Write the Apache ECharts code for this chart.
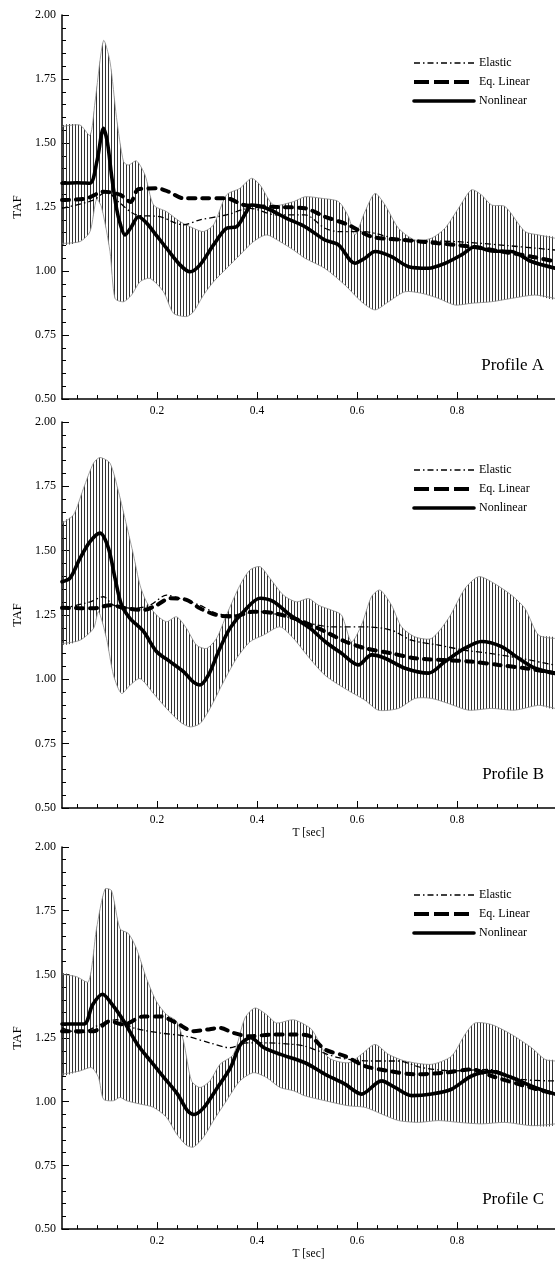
<!DOCTYPE html>
<html>
<head>
<meta charset="utf-8">
<script src="https://cdn.jsdelivr.net/npm/echarts@6/dist/echarts.min.js"></script>
<style>
html,body{margin:0;padding:0;background:#fff;}
#chart{width:555px;height:1261px;}
</style>
</head>
<body>
<div id="chart"></div>
<script>
// ---------- data (T [sec], TAF) ----------
const nonlinearA = [[0.01,1.343],[0.04,1.345],[0.066,1.343],[0.08,1.43],[0.093,1.557],[0.101,1.50],[0.109,1.375],[0.119,1.245],[0.127,1.18],[0.136,1.141],[0.148,1.17],[0.163,1.212],[0.178,1.19],[0.193,1.154],[0.219,1.089],[0.246,1.024],[0.266,0.997],[0.286,1.024],[0.313,1.102],[0.339,1.167],[0.359,1.173],[0.379,1.232],[0.389,1.258],[0.419,1.245],[0.459,1.206],[0.496,1.173],[0.536,1.121],[0.563,1.102],[0.596,1.030],[0.616,1.05],[0.636,1.076],[0.669,1.056],[0.703,1.017],[0.743,1.011],[0.776,1.030],[0.809,1.063],[0.836,1.095],[0.869,1.078],[0.909,1.076],[0.949,1.037],[0.996,1.011]];
const eqLinearA = [[0.01,1.277],[0.06,1.284],[0.093,1.31],[0.127,1.297],[0.147,1.27],[0.163,1.32],[0.2,1.323],[0.223,1.31],[0.253,1.284],[0.29,1.284],[0.339,1.284],[0.374,1.258],[0.439,1.25],[0.496,1.245],[0.536,1.212],[0.583,1.18],[0.629,1.134],[0.696,1.121],[0.763,1.108],[0.829,1.095],[0.883,1.078],[0.949,1.056],[0.996,1.037]];
const elasticA = [[0.01,1.245],[0.073,1.277],[0.099,1.31],[0.123,1.27],[0.159,1.219],[0.206,1.212],[0.253,1.18],[0.286,1.2],[0.339,1.219],[0.386,1.245],[0.439,1.219],[0.496,1.219],[0.536,1.167],[0.563,1.154],[0.61,1.154],[0.696,1.12],[0.796,1.115],[0.896,1.10],[0.996,1.082]];
const upperA = [[0.01,1.564],[0.046,1.57],[0.066,1.53],[0.076,1.66],[0.093,1.9],[0.106,1.818],[0.119,1.6],[0.133,1.427],[0.143,1.414],[0.159,1.43],[0.176,1.375],[0.193,1.258],[0.219,1.232],[0.246,1.193],[0.273,1.167],[0.293,1.154],[0.313,1.18],[0.339,1.297],[0.366,1.323],[0.389,1.362],[0.406,1.336],[0.433,1.258],[0.473,1.271],[0.496,1.29],[0.529,1.284],[0.563,1.271],[0.583,1.212],[0.596,1.141],[0.616,1.232],[0.636,1.303],[0.656,1.258],[0.683,1.167],[0.716,1.121],[0.749,1.128],[0.776,1.167],[0.803,1.245],[0.829,1.317],[0.849,1.297],[0.869,1.258],[0.896,1.252],[0.936,1.154],[0.963,1.141],[0.996,1.128]];
const lowerA = [[0.01,1.108],[0.046,1.115],[0.066,1.154],[0.079,1.28],[0.089,1.25],[0.106,1.076],[0.116,0.893],[0.133,0.88],[0.149,0.906],[0.166,0.958],[0.186,0.971],[0.213,0.919],[0.233,0.835],[0.259,0.822],[0.273,0.841],[0.293,0.906],[0.313,0.958],[0.339,1.01],[0.366,1.063],[0.393,1.115],[0.419,1.141],[0.446,1.115],[0.473,1.082],[0.496,1.05],[0.536,1.01],[0.576,0.945],[0.609,0.88],[0.636,0.848],[0.663,0.88],[0.696,0.919],[0.729,0.913],[0.763,0.893],[0.796,0.867],[0.829,0.874],[0.869,0.88],[0.909,0.893],[0.956,0.906],[0.996,0.893]];

const nonlinearB = [[0.01,1.379],[0.026,1.393],[0.046,1.470],[0.066,1.535],[0.086,1.568],[0.103,1.509],[0.116,1.393],[0.129,1.289],[0.146,1.237],[0.173,1.186],[0.199,1.108],[0.226,1.069],[0.253,1.030],[0.273,0.989],[0.286,0.978],[0.303,1.017],[0.323,1.108],[0.346,1.199],[0.373,1.263],[0.406,1.315],[0.433,1.302],[0.466,1.250],[0.506,1.199],[0.536,1.147],[0.569,1.101],[0.603,1.056],[0.629,1.095],[0.656,1.082],[0.696,1.043],[0.743,1.024],[0.776,1.069],[0.816,1.121],[0.849,1.147],[0.889,1.127],[0.923,1.082],[0.956,1.043],[0.996,1.024]];
const eqLinearB = [[0.01,1.278],[0.073,1.276],[0.106,1.288],[0.139,1.276],[0.173,1.270],[0.199,1.288],[0.226,1.315],[0.259,1.309],[0.286,1.276],[0.319,1.250],[0.353,1.244],[0.393,1.263],[0.433,1.257],[0.473,1.238],[0.506,1.212],[0.536,1.186],[0.576,1.147],[0.616,1.121],[0.669,1.101],[0.716,1.082],[0.776,1.075],[0.829,1.069],[0.883,1.056],[0.936,1.043],[0.996,1.024]];
const elasticB = [[0.01,1.275],[0.066,1.301],[0.093,1.321],[0.113,1.288],[0.153,1.276],[0.186,1.288],[0.219,1.327],[0.246,1.314],[0.286,1.288],[0.319,1.256],[0.353,1.250],[0.406,1.263],[0.459,1.243],[0.506,1.217],[0.549,1.204],[0.616,1.204],[0.669,1.191],[0.709,1.152],[0.763,1.133],[0.816,1.113],[0.869,1.100],[0.929,1.081],[0.996,1.055]];
const upperB = [[0.01,1.606],[0.033,1.639],[0.053,1.742],[0.073,1.840],[0.086,1.862],[0.106,1.840],[0.123,1.729],[0.139,1.600],[0.153,1.483],[0.166,1.366],[0.179,1.301],[0.199,1.250],[0.219,1.224],[0.239,1.243],[0.259,1.198],[0.279,1.133],[0.299,1.120],[0.319,1.159],[0.339,1.250],[0.366,1.366],[0.386,1.425],[0.406,1.438],[0.426,1.392],[0.453,1.327],[0.479,1.301],[0.503,1.314],[0.523,1.288],[0.549,1.269],[0.569,1.250],[0.589,1.146],[0.609,1.211],[0.629,1.321],[0.646,1.347],[0.669,1.288],[0.689,1.204],[0.716,1.165],[0.749,1.159],[0.783,1.237],[0.816,1.353],[0.843,1.399],[0.869,1.379],[0.909,1.327],[0.936,1.275],[0.963,1.172],[0.996,1.159]];
const lowerB = [[0.01,1.139],[0.046,1.152],[0.073,1.198],[0.083,1.263],[0.099,1.159],[0.113,1.016],[0.129,0.945],[0.146,0.977],[0.166,1.003],[0.193,0.945],[0.219,0.887],[0.246,0.835],[0.266,0.815],[0.286,0.828],[0.306,0.887],[0.333,0.990],[0.359,1.081],[0.386,1.146],[0.413,1.172],[0.446,1.204],[0.473,1.159],[0.503,1.087],[0.536,1.016],[0.576,0.964],[0.616,0.919],[0.643,0.880],[0.683,0.887],[0.716,0.926],[0.749,0.926],[0.783,0.906],[0.823,0.880],[0.869,0.887],[0.916,0.880],[0.963,0.899],[0.996,0.887]];

const nonlinearC = [[0.01,1.305],[0.054,1.305],[0.071,1.380],[0.091,1.422],[0.111,1.380],[0.134,1.315],[0.161,1.225],[0.187,1.160],[0.214,1.095],[0.241,1.030],[0.261,0.965],[0.274,0.950],[0.294,0.978],[0.321,1.056],[0.347,1.134],[0.367,1.225],[0.387,1.251],[0.414,1.212],[0.447,1.186],[0.496,1.153],[0.536,1.108],[0.576,1.069],[0.609,1.030],[0.649,1.082],[0.676,1.056],[0.709,1.024],[0.749,1.030],[0.789,1.049],[0.829,1.101],[0.869,1.118],[0.909,1.095],[0.956,1.056],[0.996,1.030]];
const eqLinearC = [[0.01,1.277],[0.073,1.277],[0.106,1.316],[0.133,1.303],[0.173,1.335],[0.206,1.335],[0.239,1.309],[0.273,1.277],[0.299,1.283],[0.326,1.290],[0.353,1.270],[0.386,1.257],[0.433,1.264],[0.473,1.264],[0.506,1.257],[0.536,1.205],[0.576,1.179],[0.616,1.140],[0.663,1.121],[0.716,1.108],[0.776,1.114],[0.829,1.127],[0.869,1.101],[0.923,1.069],[0.996,1.030]];
const elasticC = [[0.01,1.290],[0.046,1.270],[0.086,1.303],[0.119,1.322],[0.153,1.290],[0.206,1.270],[0.259,1.257],[0.306,1.231],[0.346,1.212],[0.379,1.231],[0.419,1.231],[0.473,1.225],[0.496,1.218],[0.563,1.173],[0.629,1.160],[0.683,1.160],[0.729,1.134],[0.796,1.121],[0.863,1.127],[0.929,1.088],[0.996,1.082]];
const upperC = [[0.01,1.500],[0.039,1.491],[0.063,1.471],[0.079,1.679],[0.096,1.835],[0.109,1.829],[0.126,1.679],[0.143,1.660],[0.159,1.601],[0.179,1.484],[0.199,1.393],[0.219,1.342],[0.239,1.316],[0.253,1.238],[0.269,1.082],[0.286,1.056],[0.306,1.082],[0.326,1.147],[0.353,1.186],[0.376,1.329],[0.396,1.368],[0.419,1.342],[0.439,1.309],[0.473,1.322],[0.506,1.290],[0.516,1.264],[0.543,1.173],[0.583,1.153],[0.609,1.186],[0.636,1.225],[0.663,1.186],[0.696,1.160],[0.749,1.147],[0.789,1.179],[0.816,1.264],[0.836,1.309],[0.869,1.303],[0.909,1.264],[0.949,1.212],[0.976,1.166],[0.996,1.160]];
const lowerC = [[0.01,1.108],[0.046,1.121],[0.069,1.134],[0.083,1.095],[0.093,1.010],[0.113,1.004],[0.126,1.017],[0.139,1.004],[0.166,0.991],[0.193,0.978],[0.219,0.939],[0.239,0.874],[0.259,0.829],[0.273,0.822],[0.293,0.861],[0.313,0.926],[0.339,1.004],[0.366,1.082],[0.393,1.114],[0.419,1.095],[0.446,1.056],[0.473,1.043],[0.496,1.023],[0.536,1.004],[0.583,0.984],[0.616,0.978],[0.649,0.952],[0.683,0.926],[0.723,0.919],[0.763,0.926],[0.803,0.919],[0.849,0.913],[0.896,0.919],[0.949,0.906],[0.996,0.913]];

const seriesNames = ['Elastic', 'Eq. Linear', 'Nonlinear'];
const profileLabels = ['Profile A', 'Profile B', 'Profile C'];
const xMajorTicks = [0.2, 0.4, 0.6, 0.8];
const xMinorTicks = [0.04, 0.08, 0.12, 0.16, 0.24, 0.28, 0.32, 0.36, 0.44, 0.48, 0.52, 0.56, 0.64, 0.68, 0.72, 0.76, 0.84, 0.88, 0.92, 0.96];
const xMin = 0.01, xMax = 0.996;
const yMin = 0.5, yMax = 2.0, yStep = 0.25;

const panels = [
  {el: elasticA, eq: eqLinearA, nl: nonlinearA, up: upperA, lo: lowerA},
  {el: elasticB, eq: eqLinearB, nl: nonlinearB, up: upperB, lo: lowerB},
  {el: elasticC, eq: eqLinearC, nl: nonlinearC, up: upperC, lo: lowerC}
];

// ---------- styles ----------
const FONT = 'Liberation Serif';
const gridTops = [15, 422, 847];
const gridHeights = [384, 386, 386];
const showXName = [false, true, true];

const hatch = document.createElement('canvas');
hatch.width = 3; hatch.height = 6;
(function(){ const c = hatch.getContext('2d'); c.fillStyle = '#333'; c.fillRect(0, 0, 1, 6); })();

const elasticStyle = {color: '#000', width: 1.3, type: [6, 3, 1.5, 3]};
const eqStyle = {color: '#000', width: 4, type: [7, 7], cap: 'round'};
const nlStyle = {color: '#000', width: 3.6, type: 'solid', cap: 'round'};

function bandRender(up, lo) {
  return function (params, api) {
    const u = up.map(p => api.coord(p));
    const l = lo.map(p => api.coord(p));
    const poly = u.concat(l.slice().reverse());
    return {
      type: 'group',
      children: [
        {type: 'polygon', shape: {points: poly, smooth: 0.25}, style: {fill: {image: hatch, repeat: 'repeat'}, stroke: null}},
        {type: 'polyline', shape: {points: u, smooth: 0.25}, style: {fill: null, stroke: '#888', lineWidth: 0.8}},
        {type: 'polyline', shape: {points: l, smooth: 0.25}, style: {fill: null, stroke: '#888', lineWidth: 0.8}}
      ]
    };
  };
}

const grid = [], xAxis = [], yAxis = [], series = [], legend = [], title = [];
panels.forEach((p, i) => {
  grid.push({left: 62, right: 0, top: gridTops[i], height: gridHeights[i]});
  xAxis.push({
    type: 'value', gridIndex: i, min: xMin, max: xMax, position: 'bottom',
    name: showXName[i] ? 'T [sec]' : '', nameLocation: 'middle', nameGap: 14,
    nameTextStyle: {fontFamily: FONT, fontSize: 11.5, color: '#000'},
    axisLine: {show: true, onZero: false, lineStyle: {color: '#000', width: 1.5}},
    axisTick: {show: true, inside: true, length: 7, customValues: xMajorTicks, lineStyle: {color: '#000', width: 1}},
    axisLabel: {show: true, customValues: xMajorTicks, margin: 6, fontFamily: FONT, fontSize: 11.5, color: '#000', formatter: v => v.toFixed(1)},
    splitLine: {show: false}
  });
  xAxis.push({
    type: 'value', gridIndex: i, min: xMin, max: xMax, position: 'bottom',
    axisLine: {show: false, onZero: false},
    axisTick: {show: true, inside: true, length: 4, customValues: xMinorTicks, lineStyle: {color: '#000', width: 1}},
    axisLabel: {show: false},
    splitLine: {show: false}
  });
  yAxis.push({
    type: 'value', gridIndex: i, min: yMin, max: yMax, interval: yStep,
    name: 'TAF', nameLocation: 'middle', nameGap: 31,
    nameTextStyle: {fontFamily: FONT, fontSize: 13, color: '#000'},
    axisLine: {show: true, onZero: false, lineStyle: {color: '#000', width: 1.5}},
    axisTick: {show: true, inside: true, length: 7, lineStyle: {color: '#000', width: 1}},
    minorTick: {show: true, splitNumber: 5, length: 4, lineStyle: {color: '#000', width: 1}},
    axisLabel: {margin: 6, fontFamily: FONT, fontSize: 12, color: '#000', formatter: v => v.toFixed(2)},
    splitLine: {show: false}, minorSplitLine: {show: false}
  });
  const xi = i * 2;
  series.push({
    type: 'custom', name: 'band' + i, xAxisIndex: xi, yAxisIndex: i, clip: true, silent: true,
    data: [[0.5, 1.0]], renderItem: bandRender(p.up, p.lo), z: 1
  });
  const mk = (name, data, ls) => ({
    type: 'line', name: name, xAxisIndex: xi, yAxisIndex: i, data: data,
    smooth: 0.3, symbol: 'none', showSymbol: false, lineStyle: ls, itemStyle: {color: '#000'}, z: 3
  });
  series.push(mk(seriesNames[0], p.el, elasticStyle));
  series.push(mk(seriesNames[1], p.eq, eqStyle));
  series.push(mk(seriesNames[2], p.nl, nlStyle));
  legend.push({
    orient: 'vertical', left: 412, top: gridTops[i] + 42, padding: 0,
    itemWidth: 60, itemHeight: 10, itemGap: 7, selectedMode: false,
    textStyle: {fontFamily: FONT, fontSize: 12, color: '#000'},
    data: [
      {name: seriesNames[0], lineStyle: {width: 1.3}, itemStyle: {opacity: 0}},
      {name: seriesNames[1], lineStyle: {width: 4, type: [15, 5], cap: 'butt'}, itemStyle: {opacity: 0}},
      {name: seriesNames[2], lineStyle: {width: 3.6}, itemStyle: {opacity: 0}}
    ]
  });
  title.push({
    text: profileLabels[i], right: 6, top: gridTops[i] + gridHeights[i] - 47,
    textStyle: {fontFamily: FONT, fontSize: 17, fontWeight: 'normal', color: '#000'}
  });
});

const chart = echarts.init(document.getElementById('chart'), null, {renderer: 'canvas'});
chart.setOption({
  backgroundColor: '#fff', animation: false,
  title, grid, xAxis, yAxis, legend, series
});
</script>
</body>
</html>
